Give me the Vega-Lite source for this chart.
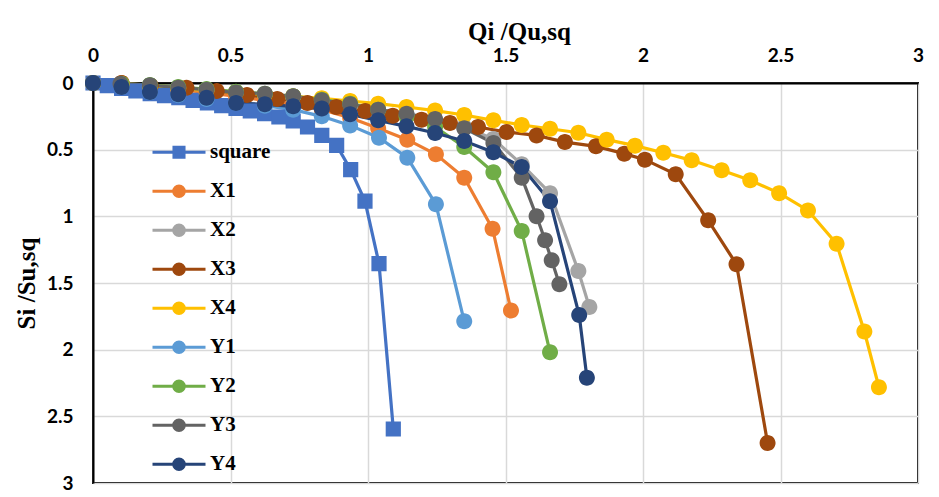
{
  "$schema": "https://vega.github.io/schema/vega-lite/v6.json",
  "autosize": "none",
  "width": 825,
  "height": 400,
  "padding": {"left": 93, "top": 83, "right": 21, "bottom": 14},
  "background": "white",
  "config": {
    "view": {"stroke": "black", "strokeWidth": 2},
    "axis": {
      "grid": true, "gridColor": "#D9D9D9", "gridWidth": 1.5,
      "domainColor": "black", "domainWidth": 2, "ticks": false, "labelFlush": false,
      "labelFont": "Lato", "labelFontWeight": "bold", "labelFontSize": 19, "labelColor": "black",
      "titleFont": "Liberation Serif", "titleFontWeight": "bold", "titleFontSize": 25, "titleColor": "black"
    },
    "legend": {
      "title": null, "orient": "none", "legendX": 58, "legendY": 50, "padding": 0,
      "labelFont": "Liberation Serif", "labelFontWeight": "bold", "labelFontSize": 21, "labelColor": "black",
      "labelOffset": 3, "rowPadding": 0, "clipHeight": 38.4, "symbolSize": 2809, "symbolStrokeWidth": 3, "symbolOpacity": 1
    }
  },
  "data": {"values": [
    {"s":"square","x":0,"y":0},{"s":"square","x":0.052,"y":0.02},{"s":"square","x":0.104,"y":0.04},{"s":"square","x":0.156,"y":0.06},{"s":"square","x":0.208,"y":0.08},{"s":"square","x":0.26,"y":0.095},{"s":"square","x":0.312,"y":0.11},{"s":"square","x":0.364,"y":0.13},{"s":"square","x":0.416,"y":0.15},{"s":"square","x":0.468,"y":0.17},{"s":"square","x":0.52,"y":0.19},{"s":"square","x":0.572,"y":0.21},{"s":"square","x":0.624,"y":0.23},{"s":"square","x":0.676,"y":0.255},{"s":"square","x":0.728,"y":0.285},{"s":"square","x":0.78,"y":0.33},{"s":"square","x":0.832,"y":0.393},{"s":"square","x":0.886,"y":0.468},{"s":"square","x":0.937,"y":0.65},{"s":"square","x":0.989,"y":0.886},{"s":"square","x":1.04,"y":1.354},{"s":"square","x":1.092,"y":2.595},
    {"s":"X1","x":0,"y":0},{"s":"X1","x":0.104,"y":0},{"s":"X1","x":0.207,"y":0.03},{"s":"X1","x":0.31,"y":0.05},{"s":"X1","x":0.413,"y":0.07},{"s":"X1","x":0.52,"y":0.1},{"s":"X1","x":0.625,"y":0.13},{"s":"X1","x":0.728,"y":0.16},{"s":"X1","x":0.832,"y":0.2},{"s":"X1","x":0.935,"y":0.26},{"s":"X1","x":1.037,"y":0.34},{"s":"X1","x":1.143,"y":0.425},{"s":"X1","x":1.247,"y":0.535},{"s":"X1","x":1.35,"y":0.71},{"s":"X1","x":1.453,"y":1.093},{"s":"X1","x":1.52,"y":1.706},
    {"s":"X2","x":0,"y":0},{"s":"X2","x":0.104,"y":0.01},{"s":"X2","x":0.207,"y":0.02},{"s":"X2","x":0.31,"y":0.035},{"s":"X2","x":0.413,"y":0.05},{"s":"X2","x":0.52,"y":0.07},{"s":"X2","x":0.625,"y":0.085},{"s":"X2","x":0.728,"y":0.105},{"s":"X2","x":0.832,"y":0.135},{"s":"X2","x":0.935,"y":0.165},{"s":"X2","x":1.037,"y":0.2},{"s":"X2","x":1.14,"y":0.235},{"s":"X2","x":1.244,"y":0.275},{"s":"X2","x":1.35,"y":0.33},{"s":"X2","x":1.456,"y":0.42},{"s":"X2","x":1.559,"y":0.61},{"s":"X2","x":1.662,"y":0.826},{"s":"X2","x":1.765,"y":1.41},{"s":"X2","x":1.805,"y":1.68},
    {"s":"X3","x":0,"y":0},{"s":"X3","x":0.104,"y":0},{"s":"X3","x":0.21,"y":0.02},{"s":"X3","x":0.34,"y":0.035},{"s":"X3","x":0.45,"y":0.06},{"s":"X3","x":0.56,"y":0.09},{"s":"X3","x":0.67,"y":0.12},{"s":"X3","x":0.78,"y":0.15},{"s":"X3","x":0.885,"y":0.18},{"s":"X3","x":0.99,"y":0.21},{"s":"X3","x":1.09,"y":0.245},{"s":"X3","x":1.195,"y":0.275},{"s":"X3","x":1.298,"y":0.3},{"s":"X3","x":1.4,"y":0.33},{"s":"X3","x":1.504,"y":0.368},{"s":"X3","x":1.613,"y":0.393},{"s":"X3","x":1.716,"y":0.443},{"s":"X3","x":1.829,"y":0.475},{"s":"X3","x":1.932,"y":0.53},{"s":"X3","x":2.007,"y":0.575},{"s":"X3","x":2.119,"y":0.685},{"s":"X3","x":2.237,"y":1.03},{"s":"X3","x":2.34,"y":1.36},{"s":"X3","x":2.453,"y":2.7},
    {"s":"X4","x":0,"y":0},{"s":"X4","x":0.104,"y":0.01},{"s":"X4","x":0.207,"y":0.025},{"s":"X4","x":0.31,"y":0.04},{"s":"X4","x":0.413,"y":0.055},{"s":"X4","x":0.52,"y":0.07},{"s":"X4","x":0.625,"y":0.085},{"s":"X4","x":0.728,"y":0.1},{"s":"X4","x":0.832,"y":0.115},{"s":"X4","x":0.935,"y":0.135},{"s":"X4","x":1.037,"y":0.155},{"s":"X4","x":1.14,"y":0.18},{"s":"X4","x":1.244,"y":0.207},{"s":"X4","x":1.35,"y":0.24},{"s":"X4","x":1.456,"y":0.28},{"s":"X4","x":1.559,"y":0.315},{"s":"X4","x":1.662,"y":0.343},{"s":"X4","x":1.765,"y":0.373},{"s":"X4","x":1.868,"y":0.425},{"s":"X4","x":1.971,"y":0.47},{"s":"X4","x":2.074,"y":0.523},{"s":"X4","x":2.177,"y":0.58},{"s":"X4","x":2.286,"y":0.655},{"s":"X4","x":2.39,"y":0.73},{"s":"X4","x":2.495,"y":0.826},{"s":"X4","x":2.6,"y":0.956},{"s":"X4","x":2.704,"y":1.206},{"s":"X4","x":2.805,"y":1.864},{"s":"X4","x":2.858,"y":2.282},
    {"s":"Y1","x":0,"y":0},{"s":"Y1","x":0.104,"y":0.03},{"s":"Y1","x":0.207,"y":0.07},{"s":"Y1","x":0.31,"y":0.09},{"s":"Y1","x":0.413,"y":0.12},{"s":"Y1","x":0.52,"y":0.15},{"s":"Y1","x":0.625,"y":0.17},{"s":"Y1","x":0.728,"y":0.2},{"s":"Y1","x":0.832,"y":0.25},{"s":"Y1","x":0.935,"y":0.318},{"s":"Y1","x":1.04,"y":0.41},{"s":"Y1","x":1.143,"y":0.56},{"s":"Y1","x":1.247,"y":0.91},{"s":"Y1","x":1.35,"y":1.787},
    {"s":"Y2","x":0,"y":0},{"s":"Y2","x":0.104,"y":0.005},{"s":"Y2","x":0.207,"y":0.015},{"s":"Y2","x":0.31,"y":0.03},{"s":"Y2","x":0.413,"y":0.045},{"s":"Y2","x":0.52,"y":0.065},{"s":"Y2","x":0.625,"y":0.08},{"s":"Y2","x":0.728,"y":0.1},{"s":"Y2","x":0.832,"y":0.125},{"s":"Y2","x":0.935,"y":0.155},{"s":"Y2","x":1.037,"y":0.2},{"s":"Y2","x":1.14,"y":0.25},{"s":"Y2","x":1.244,"y":0.33},{"s":"Y2","x":1.35,"y":0.48},{"s":"Y2","x":1.456,"y":0.67},{"s":"Y2","x":1.559,"y":1.11},{"s":"Y2","x":1.662,"y":2.02},
    {"s":"Y3","x":0,"y":0},{"s":"Y3","x":0.1,"y":0.005},{"s":"Y3","x":0.207,"y":0.017},{"s":"Y3","x":0.31,"y":0.035},{"s":"Y3","x":0.413,"y":0.05},{"s":"Y3","x":0.52,"y":0.072},{"s":"Y3","x":0.625,"y":0.08},{"s":"Y3","x":0.728,"y":0.1},{"s":"Y3","x":0.832,"y":0.13},{"s":"Y3","x":0.935,"y":0.16},{"s":"Y3","x":1.037,"y":0.2},{"s":"Y3","x":1.14,"y":0.23},{"s":"Y3","x":1.244,"y":0.27},{"s":"Y3","x":1.35,"y":0.34},{"s":"Y3","x":1.456,"y":0.45},{"s":"Y3","x":1.559,"y":0.71},{"s":"Y3","x":1.613,"y":1.0},{"s":"Y3","x":1.644,"y":1.18},{"s":"Y3","x":1.668,"y":1.33},{"s":"Y3","x":1.696,"y":1.51},
    {"s":"Y4","x":0,"y":0},{"s":"Y4","x":0.104,"y":0.03},{"s":"Y4","x":0.207,"y":0.068},{"s":"Y4","x":0.31,"y":0.085},{"s":"Y4","x":0.413,"y":0.11},{"s":"Y4","x":0.52,"y":0.15},{"s":"Y4","x":0.625,"y":0.16},{"s":"Y4","x":0.728,"y":0.175},{"s":"Y4","x":0.832,"y":0.192},{"s":"Y4","x":0.935,"y":0.235},{"s":"Y4","x":1.037,"y":0.28},{"s":"Y4","x":1.14,"y":0.325},{"s":"Y4","x":1.244,"y":0.375},{"s":"Y4","x":1.35,"y":0.435},{"s":"Y4","x":1.456,"y":0.52},{"s":"Y4","x":1.559,"y":0.63},{"s":"Y4","x":1.662,"y":0.886},{"s":"Y4","x":1.768,"y":1.74},{"s":"Y4","x":1.796,"y":2.21}
  ]},
  "encoding": {
    "x": {"field": "x", "type": "quantitative", "scale": {"domain": [0, 3], "nice": false},
      "axis": {"orient": "top", "values": [0,0.5,1,1.5,2,2.5,3], "format": "~g", "labelPadding": 18, "title": "Qi /Qu,sq", "titlePadding": 2, "titleX": 426}},
    "y": {"field": "y", "type": "quantitative", "scale": {"domain": [0, 3], "nice": false, "reverse": true},
      "axis": {"orient": "left", "values": [0,0.5,1,1.5,2,2.5,3], "format": "~g", "labelPadding": 20, "title": "Si /Su,sq", "titlePadding": 7}},
    "color": {"field": "s", "type": "nominal",
      "scale": {"domain": ["square","X1","X2","X3","X4","Y1","Y2","Y3","Y4"],
        "range": ["#4472C4","#ED7D31","#A5A5A5","#9E480E","#FFC000","#5B9BD5","#70AD47","#636363","#264478"]},
      "legend": {
        "encode": {"symbols": {"update": {
          "size": {"value": 2809},
          "stroke": {"scale": "color", "field": "value"},
          "fill": {"scale": "color", "field": "value"},
          "strokeWidth": {"value": 3},
          "opacity": {"value": 1}}}}}}
  },
  "layer": [
    {"mark": {"type": "line", "strokeWidth": 3.2}},
    {"mark": {"type": "point", "filled": true, "opacity": 1, "size": 6400},
     "encoding": {
       "shape": {"field": "s", "type": "nominal",
         "scale": {"domain": ["square","X1","X2","X3","X4","Y1","Y2","Y3","Y4"],
           "range": ["M-1,0H1M-0.19,-0.19H0.19V0.19H-0.19Z",
             "M-1,0H1M0.2,0A0.2,0.2 0 1,1 -0.2,0A0.2,0.2 0 1,1 0.2,0Z",
             "M-1,0H1M0.2,0A0.2,0.2 0 1,1 -0.2,0A0.2,0.2 0 1,1 0.2,0Z",
             "M-1,0H1M0.2,0A0.2,0.2 0 1,1 -0.2,0A0.2,0.2 0 1,1 0.2,0Z",
             "M-1,0H1M0.2,0A0.2,0.2 0 1,1 -0.2,0A0.2,0.2 0 1,1 0.2,0Z",
             "M-1,0H1M0.2,0A0.2,0.2 0 1,1 -0.2,0A0.2,0.2 0 1,1 0.2,0Z",
             "M-1,0H1M0.2,0A0.2,0.2 0 1,1 -0.2,0A0.2,0.2 0 1,1 0.2,0Z",
             "M-1,0H1M0.2,0A0.2,0.2 0 1,1 -0.2,0A0.2,0.2 0 1,1 0.2,0Z",
             "M-1,0H1M0.2,0A0.2,0.2 0 1,1 -0.2,0A0.2,0.2 0 1,1 0.2,0Z"]},
         "legend": {
           "encode": {"symbols": {"update": {
             "size": {"value": 2809},
             "stroke": {"scale": "color", "field": "value"},
             "fill": {"scale": "color", "field": "value"},
             "strokeWidth": {"value": 3},
             "opacity": {"value": 1}}}}}}
     }}
  ]
}
